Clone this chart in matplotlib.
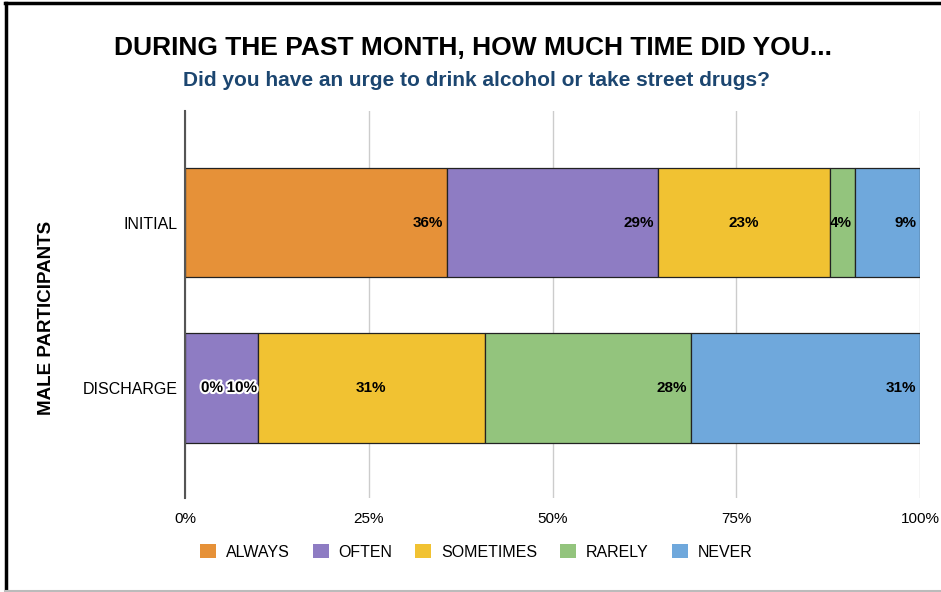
import numpy as np
import matplotlib.pyplot as plt
import matplotlib.patheffects as pe
from matplotlib.patches import Patch
from matplotlib.lines import Line2D

plt.rcParams['font.family'] = ['Liberation Sans', 'DejaVu Sans']

## data
groups = ['INITIAL', 'DISCHARGE']
answers = ['ALWAYS', 'OFTEN', 'SOMETIMES', 'RARELY', 'NEVER']
initial = [35.6, 28.7, 23.4, 3.5, 8.8]
discharge = [0.0, 9.9, 30.9, 28.0, 31.2]
initial_lbl = ['36%', '29%', '23%', '4%', '9%']
discharge_lbl = ['0%', '10%', '31%', '28%', '31%']
colors = ['#E69138', '#8E7CC3', '#F1C232', '#93C47D', '#6FA8DC']
xticks = [0, 25, 50, 75, 100]

fig = plt.figure(figsize=(9.41, 5.92), dpi=100)
ax = fig.add_axes([185/941, 1-498/592, 735/941, 387/592])

vals = [initial, discharge]
lbls = [initial_lbl, discharge_lbl]
ypos = np.arange(len(groups))
for i in range(len(answers)):
    left = [sum(v[:i]) for v in vals]
    w = [v[i] for v in vals]
    ax.barh(ypos, w, left=left, height=0.66, color=colors[i],
            edgecolor='#222222', linewidth=0.9, zorder=3)

# value labels: most sit at the right end of the segment, SOMETIMES is centred
for g in range(len(groups)):
    for i in range(len(answers)):
        right = sum(vals[g][:i+1])
        txt = lbls[g][i]
        fx = []
        dx = -2.5
        if g == 1 and i < 2:
            # small segments get a white halo in the original
            fx = [pe.withStroke(linewidth=3, foreground='white')]
            dx = -0.5
        kw = dict(va='center', fontsize=11, fontweight='bold', path_effects=fx,
                  zorder=5, textcoords='offset points')
        if vals[g][i] == 0:
            ax.annotate(txt, (right, ypos[g]), xytext=(11.5, 0), ha='left', **kw)
        elif i == 2:
            ax.annotate(txt, (right - vals[g][i]/2, ypos[g]), xytext=(0, 0), ha='center', **kw)
        else:
            ax.annotate(txt, (right, ypos[g]), xytext=(dx, 0), ha='right', **kw)

ax.set_xlim(0, 100)
ax.set_ylim(1.665, -0.674)
ax.set_xticks(xticks)
ax.set_xticklabels([f'{t}%' for t in xticks], fontsize=11)
ax.set_yticks(ypos)
ax.set_yticklabels(groups, fontsize=11.5)
ax.tick_params(length=0, pad=5)
ax.tick_params(axis='x', pad=10)
ax.grid(axis='x', color='#cccccc', linewidth=1, zorder=0)
for s in ['top', 'right', 'bottom']:
    ax.spines[s].set_visible(False)
ax.spines['left'].set_color('#555555')
ax.spines['left'].set_linewidth(1.5)
ax.spines['left'].set_zorder(4)
ax.set_ylabel('MALE PARTICIPANTS', fontsize=13.5, fontweight='bold')
ax.yaxis.set_label_coords(-0.177, 0.464)

fig.text(0.503, 1-48/592, 'DURING THE PAST MONTH, HOW MUCH TIME DID YOU...',
         ha='center', va='center', fontsize=19, fontweight='bold')
fig.text(0.506, 1-81/592, 'Did you have an urge to drink alcohol or take street drugs?',
         ha='center', va='center', fontsize=15, fontweight='bold', color='#1C4670')

handles = [Patch(facecolor=c, edgecolor='none', label=a) for c, a in zip(colors, answers)]
fig.legend(handles=handles, loc='center', bbox_to_anchor=(0.506, 1-552/592), ncol=5,
           frameon=False, fontsize=11.5, handlelength=1.0, handleheight=1.0,
           columnspacing=1.45, handletextpad=0.6)

# outer frame of the screenshot
fig.add_artist(Line2D([5/941, 1], [1-3/592, 1-3/592], transform=fig.transFigure,
                      color='black', linewidth=2.5))
fig.add_artist(Line2D([6/941, 6/941], [1-3/592, 1/592], transform=fig.transFigure,
                      color='black', linewidth=2.5))
fig.add_artist(Line2D([5/941, 1], [1.5/592, 1.5/592], transform=fig.transFigure,
                      color='#bbbbbb', linewidth=1.5))

fig.savefig('out.png', dpi=100)
